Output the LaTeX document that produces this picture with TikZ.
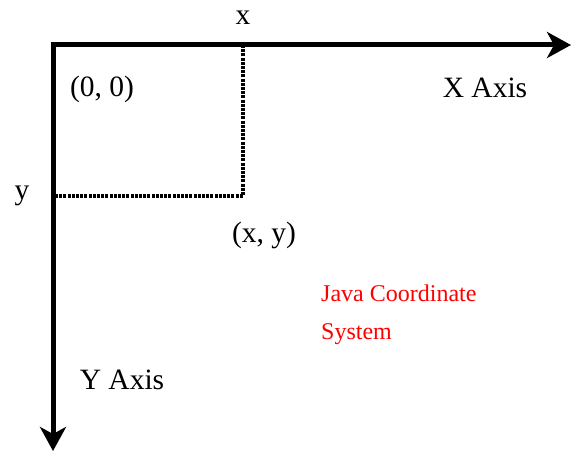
\documentclass[tikz,border=0pt]{standalone}
\usepackage{fontspec}
\setmainfont{Liberation Serif}
\usetikzlibrary{arrows.meta}
\begin{document}
\begin{tikzpicture}[x=1pt,y=-1pt,
    axis/.style={line width=5pt,line join=miter,
      {Stealth[length=24pt,width=26pt,inset=7pt]}-{Stealth[length=24pt,width=26pt,inset=7pt]}},
    guide/.style={line width=3.6pt,dash pattern=on 3pt off 1.2pt},
    lbl/.style={font=\fontsize{29.5}{31}\selectfont,inner sep=0pt},
    note/.style={font=\fontsize{24}{38}\selectfont,text=red,align=left,inner sep=0pt}]
  \useasboundingbox (0,0) rectangle (572,452);
  \coordinate (o) at (53,45);
  \coordinate (xend) at (571,45);
  \coordinate (yend) at (53,451);
  \coordinate (p) at (243,196);
  \coordinate (px) at (243,45);
  \coordinate (py) at (53,196);
  \draw[guide] (px) -- (p) -- (py);
  \draw[axis] (xend) -- (o) -- (yend);
  \node[lbl] (xlbl) at (243,18) {x};
  \node[lbl] (ylbl) at (22,196) {y};
  \node[lbl] (orig) at (102,89) {(0, 0)};
  \node[lbl] (xaxis) at (485,88) {X Axis};
  \node[lbl] (pt) at (264,235) {(x, y)};
  \node[lbl] (yaxis) at (122,380) {Y Axis};
  \node[note,anchor=north west] (java) at (321,285) {Java Coordinate\\System};
\end{tikzpicture}
\end{document}
